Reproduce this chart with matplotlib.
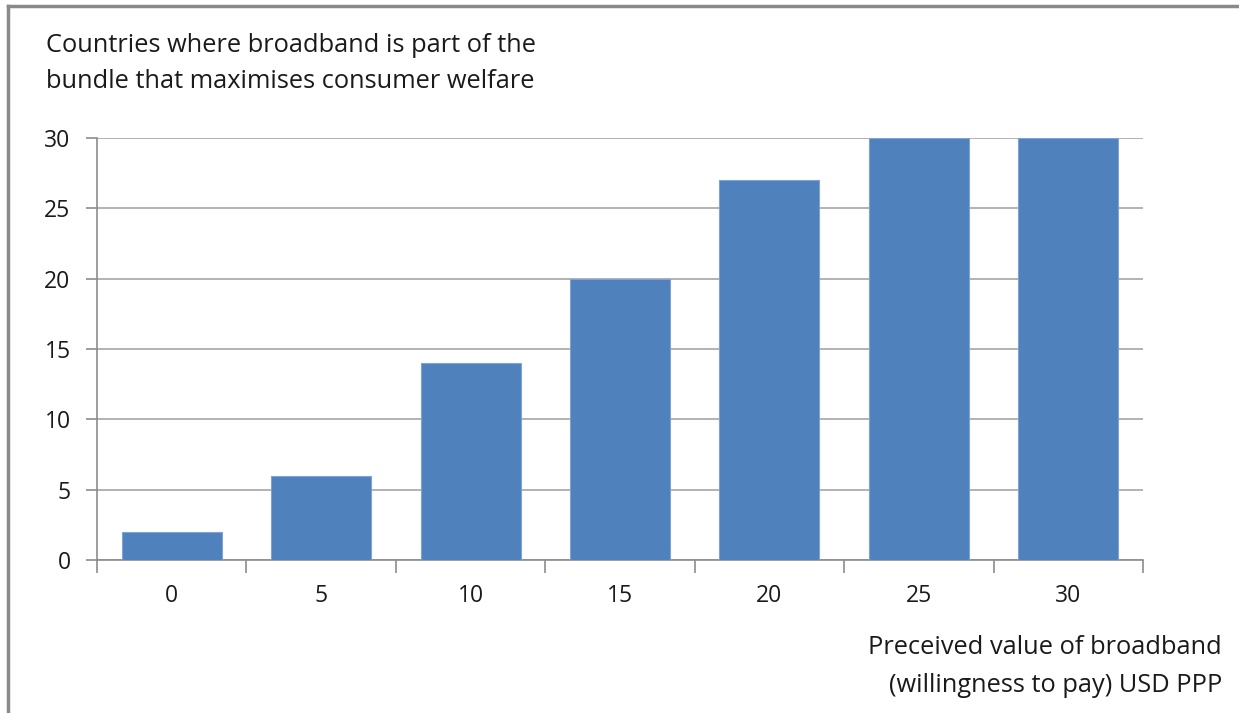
import matplotlib
matplotlib.use("Agg")
import matplotlib.pyplot as plt
from matplotlib.lines import Line2D

categories = ["0", "5", "10", "15", "20", "25", "30"]
countries = [2, 6, 14, 20, 27, 30, 30]
y_ticks = [0, 5, 10, 15, 20, 25, 30]

plt.rcParams["font.family"] = ["Open Sans", "DejaVu Sans"]

W, H = 1239, 713
fig = plt.figure(figsize=(W / 100, H / 100), dpi=100)
ax = fig.add_axes([97 / W, 1 - 560 / H, (1143 - 97) / W, (560 - 138) / H])

x = list(range(len(categories)))
ax.bar(x, countries, width=0.67, color="#4F81BD", edgecolor="#7FA3D3",
       linewidth=0.8, zorder=3)

ax.set_xlim(-0.5, len(categories) - 0.5)
ax.set_ylim(0, 30)
ax.set_yticks(y_ticks)
ax.set_yticklabels([str(v) for v in y_ticks])
ax.set_xticks(x)
ax.set_xticklabels(categories)

grid_col = "#A6A6A6"
ax.grid(axis="y", color=grid_col, linewidth=1.2, zorder=0)
for s in ["top", "right"]:
    ax.spines[s].set_visible(False)
ax.spines["left"].set_color("#8C8C8C")
ax.spines["bottom"].set_color("#8C8C8C")
ax.spines["left"].set_linewidth(1.2)
ax.spines["bottom"].set_linewidth(1.2)

ax.tick_params(axis="y", length=8, width=1.2, color="#8C8C8C", pad=11,
               labelsize=16.5, labelcolor="#1a1a1a")
ax.tick_params(axis="x", length=0, pad=17, labelsize=16.5, labelcolor="#1a1a1a")

# category boundary ticks below the x axis
ax.set_xticks([i - 0.5 for i in range(len(categories) + 1)], minor=True)
ax.tick_params(axis="x", which="minor", length=9, width=1.2, color="#8C8C8C")

fs = 18.3
fig.text(46 / W, 1 - 46 / H, "Countries where broadband is part of the",
         fontsize=fs, va="center", ha="left", color="#1a1a1a")
fig.text(46 / W, 1 - 82 / H, "bundle that maximises consumer welfare",
         fontsize=fs, va="center", ha="left", color="#1a1a1a")
fig.text(1222 / W, 1 - 648 / H, "Preceived value of broadband",
         fontsize=fs, va="center", ha="right", color="#1a1a1a")
fig.text(1222 / W, 1 - 685 / H, "(willingness to pay) USD PPP",
         fontsize=fs, va="center", ha="right", color="#1a1a1a")

# outer frame (top and left edges)
fig.add_artist(Line2D([8 / W, 8 / W], [0, 1 - 6 / H], transform=fig.transFigure,
                      color="#8A8A8A", linewidth=2.5))
fig.add_artist(Line2D([8 / W, 1], [1 - 6 / H, 1 - 6 / H], transform=fig.transFigure,
                      color="#8A8A8A", linewidth=2.5))

fig.savefig("out.png", dpi=100, facecolor="white")
